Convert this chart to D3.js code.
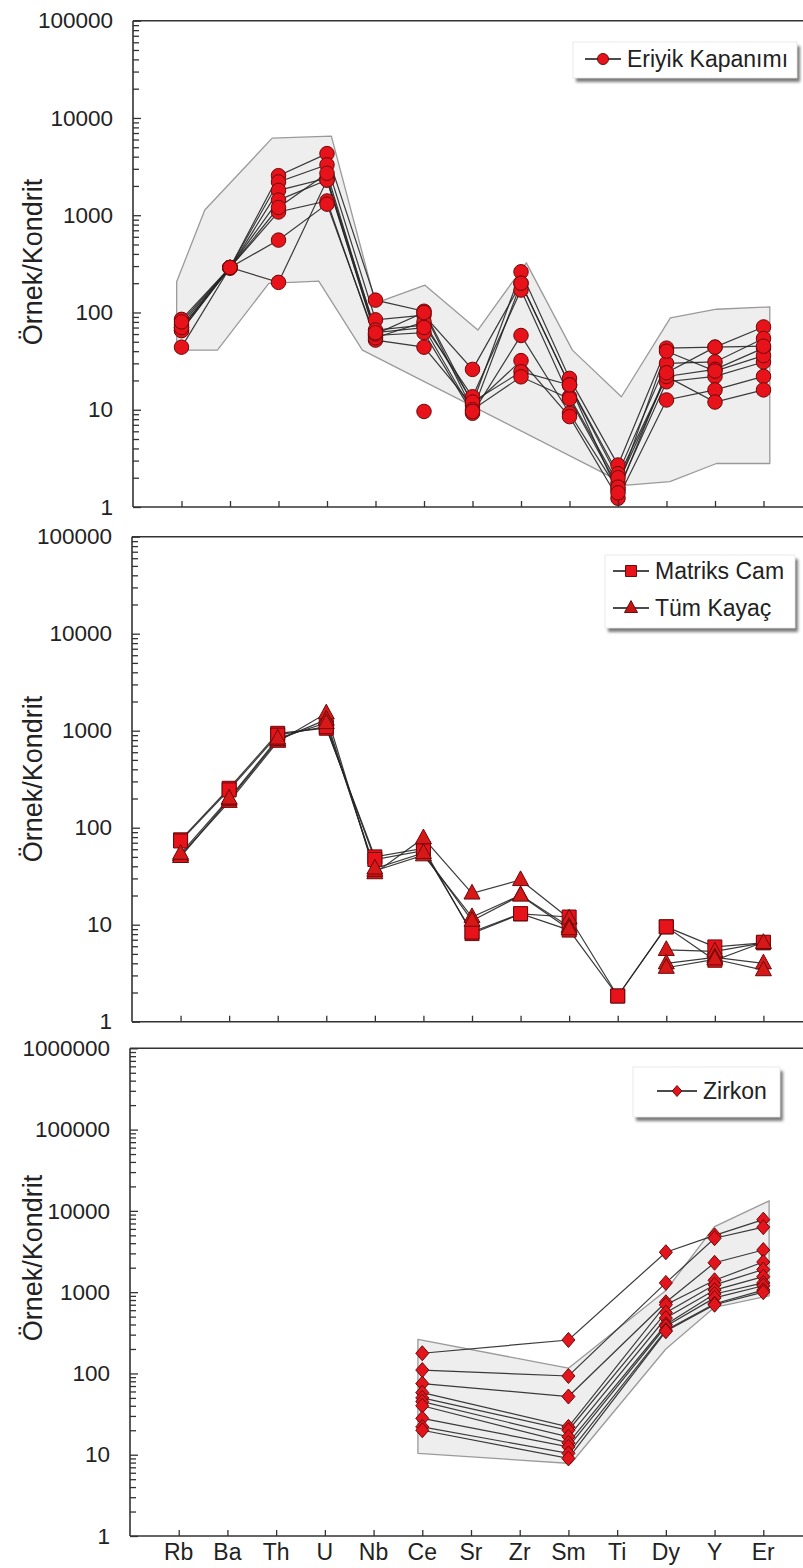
<!DOCTYPE html>
<html>
<head>
<meta charset="utf-8">
<script src="https://cdnjs.cloudflare.com/ajax/libs/d3/7.8.5/d3.min.js"></script>
<style>
  html, body { margin: 0; padding: 0; background: #fff; }
  svg { display: block; }
  text { font-family: "Liberation Sans", Arial, Helvetica, sans-serif; fill: #222; }
</style>
</head>
<body>
<svg id="chart" width="803" height="1568"></svg>
<script>
// Chondrite-normalised multi-element (spider) diagrams

const elements = ["Rb", "Ba", "Th", "U", "Nb", "Ce", "Sr", "Zr", "Sm", "Ti", "Dy", "Y", "Er"];

// --- Eriyik kapanımı (melt inclusions) ---
const eriyik1 = [85, 290, 2550, 4300, 134, 103, 11.6, 262, 21, 2.7, 43, 44, 71];
const eriyik2 = [75, 290, 2200, 3300, 84, 94, 26, 199, 18, 2.2, 30, 31, 54];
const eriyik3 = [70, 285, 1800, 2400, 66, 74, 13.6, 170, 13.6, 1.75, 22, 26, 43];
const eriyik4 = [66, 290, 1430, 2300, 58, 62, 9.2, 58, 9.2, 1.5, 19.4, 22, 31];
const eriyik5 = [65, 290, 1080, 1400, 52, 44, 11, 32, 8.5, 1.23, 12.6, 16, 22];
const eriyik6 = [44, 290, 555, 1300, 55, 80, 12, 24.6, 18, 2.0, 22, 12, 16];
const eriyik7 = [70, 290, 204, 2300, 60, 100, 10, 21.8, 13, 1.6, 40, 25, 36];
const eriyik8 = [80, 290, 1200, 2700, 62, 70, 9.6, 200, 18, 1.4, 24, 44, 45];
const eriyik9 = [null, null, null, null, null, 9.6, null, null, null, null, null, null, null];

// envelope of published melt-inclusion data: [position along element axis, value]
const eriyikEnvelope = [
  [-0.1, 207], [0.48, 1130], [1.87, 6200], [3.09, 6500], [4.0, 125], [5.02, 191],
  [6.11, 66], [7.11, 324], [8.06, 41], [9.07, 13.6], [10.08, 88], [11.03, 108], [12.13, 114],
  [12.13, 2.8], [11.03, 2.8], [10.07, 1.82], [9.19, 1.68], [3.73, 41], [2.83, 210],
  [1.8, 199], [0.74, 41], [-0.1, 41]
];

// --- Matriks cam (matrix glass) and Tüm kayaç (whole rock) ---
const matriksCam1 = [75, 255, 940, 1060, 50, 61, 8.1, 12.9, 12, 1.84, 9.5, 5.9, 6.5];
const matriksCam2 = [73, 245, 900, 1100, 47, 58, 8.4, 13, 8.8, 1.84, 9.5, 4.3, 6.6];
const tumKayac1 = [52, 185, 770, 1510, 34, 78, 21, 28.9, 11.6, null, 5.5, 5.3, 6.5];
const tumKayac2 = [50, 195, 800, 1300, 36, 52, 12, 20.2, 9.5, null, 4.0, 4.6, 4.0];
const tumKayac3 = [54, 200, 830, 1200, 38, 55, 11, 20, 9, null, 3.6, 4.4, 3.4];

// --- Zirkon ---
const zirkon1  = [null, null, null, null, null, 177, null, null, 258, null, 3100, 5000, 7800];
const zirkon2  = [null, null, null, null, null, 110, null, null, 93, null, 1300, 4600, 6300];
const zirkon3  = [null, null, null, null, null, 75, null, null, 52, null, 750, 2300, 3300];
const zirkon4  = [null, null, null, null, null, 58, null, null, 22, null, 700, 1400, 2350];
const zirkon5  = [null, null, null, null, null, 50, null, null, 20, null, 560, 1230, 1900];
const zirkon6  = [null, null, null, null, null, 45, null, null, 16.6, null, 480, 1060, 1550];
const zirkon7  = [null, null, null, null, null, 40, null, null, 14, null, 400, 950, 1300];
const zirkon8  = [null, null, null, null, null, 28, null, null, 12.5, null, 380, 850, 1200];
const zirkon9  = [null, null, null, null, null, 22, null, null, 10.4, null, 340, 720, 1060];
const zirkon10 = [null, null, null, null, null, 20, null, null, 9, null, 330, 700, 1000];

const zirkonEnvelope = [
  [4.91, 262], [8.0, 116], [10.0, 1050], [11.0, 6400], [12.12, 13300],
  [12.12, 900], [11.0, 650], [10.0, 200], [8.05, 7.8], [4.91, 10.4]
];

const yTitle = "Örnek/Kondrit";

// ---------------------------------------------------------------------------
const svg = d3.select("#chart");
const RIGHT = 812;
const RED = "#e8121a";
const OUTLINE = "#6a0a0a";

const defs = svg.append("defs");
const f = defs.append("filter").attr("id", "shadow").attr("x", "-20%").attr("y", "-20%")
  .attr("width", "140%").attr("height", "160%");
f.append("feGaussianBlur").attr("stdDeviation", 1.6);

const shapes = {
  circle: s => { const r = s / 2; return `M${r},0A${r},${r} 0 1,1 ${-r},0A${r},${r} 0 1,1 ${r},0Z`; },
  square: s => `M${-s / 2},${-s / 2}h${s}v${s}h${-s}Z`,
  triangle: s => { const h = s * 0.92; return `M0,${-h * 0.62}L${s / 2},${h * 0.38}L${-s / 2},${h * 0.38}Z`; },
  diamond: s => { const w = s * 0.87, h = s; return `M0,${-h / 2}L${w / 2},0L0,${h / 2}L${-w / 2},0Z`; }
};

const panels = [
  {
    left: 133, top: 20.7, bottom: 507, yMax: 1e5, titleY: 262, gaps: true,
    groups: [
      { shape: "circle", size: 14.5, fill: RED, rows: [eriyik1, eriyik2, eriyik3, eriyik4, eriyik5, eriyik6, eriyik7, eriyik8, eriyik9] }
    ],
    envelope: eriyikEnvelope,
    legend: { x: 573, y: 42, w: 224, h: 36, items: [{ label: "Eriyik Kapanımı", shape: "circle", size: 11, fill: RED }] }
  },
  {
    left: 132, top: 536.7, bottom: 1021.7, yMax: 1e5, titleY: 779, gaps: true,
    groups: [
      { shape: "square", size: 14, fill: RED, rows: [matriksCam1, matriksCam2] },
      { shape: "triangle", size: 16, fill: "#d71818", rows: [tumKayac1, tumKayac2, tumKayac3] }
    ],
    envelope: null,
    legend: { x: 605, y: 555, w: 190, h: 73, items: [
      { label: "Matriks Cam", shape: "square", size: 11, fill: RED },
      { label: "Tüm Kayaç", shape: "triangle", size: 13, fill: "#c41414" }
    ] }
  },
  {
    left: 130, top: 1048.3, bottom: 1536, yMax: 1e6, titleY: 1258, gaps: false, xLabels: true,
    groups: [
      { shape: "diamond", size: 15, fill: "#e3141c", rows: [zirkon1, zirkon2, zirkon3, zirkon4, zirkon5, zirkon6, zirkon7, zirkon8, zirkon9, zirkon10] }
    ],
    envelope: zirkonEnvelope,
    legend: { x: 633, y: 1067, w: 147, h: 50, items: [{ label: "Zirkon", shape: "diamond", size: 11, fill: "#e3141c" }] }
  }
];

panels.forEach(p => {
  const g = svg.append("g");
  const x = d3.scalePoint().domain(elements).range([p.left, RIGHT]).padding(1);
  const y = d3.scaleLog().domain([1, p.yMax]).range([p.bottom, p.top]);
  const xi = i => x(elements[0]) + i * x.step();

  // envelope
  if (p.envelope) {
    const env = d3.line().x(d => xi(d[0])).y(d => y(d[1]));
    g.append("path").attr("d", env(p.envelope) + "Z")
      .attr("fill", "#eeeeee").attr("stroke", "#9a9a9a").attr("stroke-width", 1.3)
      .attr("stroke-linejoin", "round");
  }

  // sample lines
  const line = d3.line().defined(d => d.v != null).x(d => x(d.el)).y(d => y(d.v));
  p.groups.forEach(grp => {
    grp.rows.forEach(row => {
      let pts = row.map((v, i) => ({ el: elements[i], v }));
      if (!p.gaps) pts = pts.filter(d => d.v != null);
      g.append("path").attr("d", line(pts)).attr("fill", "none")
        .attr("stroke", "#262626").attr("stroke-width", 1.2).attr("opacity", 0.9);
    });
  });
  // sample markers
  p.groups.forEach(grp => {
    grp.rows.forEach(row => {
      row.forEach((v, i) => {
        if (v == null) return;
        g.append("path").attr("d", shapes[grp.shape](grp.size))
          .attr("transform", `translate(${x(elements[i])},${y(v)})`)
          .attr("fill", grp.fill).attr("stroke", OUTLINE).attr("stroke-width", 1);
      });
    });
  });

  // frame
  const frame = "#333";
  g.append("line").attr("x1", p.left).attr("x2", RIGHT).attr("y1", p.top).attr("y2", p.top)
    .attr("stroke", frame).attr("stroke-width", 1.6);

  // log axis ticks
  const maxExp = Math.round(Math.log10(p.yMax));
  const majors = d3.range(0, maxExp + 1).map(e => Math.pow(10, e));
  const minors = [];
  d3.range(0, maxExp).forEach(e => { for (let k = 2; k <= 9; k++) minors.push(k * Math.pow(10, e)); });

  const minorAxis = g.append("g").attr("transform", `translate(${p.left},0)`)
    .call(d3.axisRight(y).tickValues(minors).tickSize(6).tickFormat(""));
  const majorAxis = g.append("g").attr("transform", `translate(${p.left},0)`)
    .call(d3.axisRight(y).tickValues(majors).tickSize(8).tickFormat(""));
  const labelAxis = g.append("g").attr("transform", `translate(${p.left},0)`)
    .call(d3.axisLeft(y).tickValues(majors).tickSize(0).tickPadding(20).tickFormat(d3.format("d")));
  [minorAxis, majorAxis, labelAxis].forEach(a => {
    a.select(".domain").remove();
    a.selectAll("line").attr("stroke", frame).attr("stroke-width", 1.3);
  });
  labelAxis.selectAll("text").attr("font-size", 22.5).attr("fill", "#222")
    .attr("font-family", "'Liberation Sans', Arial, sans-serif");

  g.append("line").attr("x1", p.left).attr("x2", p.left).attr("y1", p.top).attr("y2", p.bottom)
    .attr("stroke", frame).attr("stroke-width", 1.6);

  // category ticks
  const xAxis = g.append("g").attr("transform", `translate(0,${p.bottom})`)
    .call(d3.axisTop(x).tickSize(6).tickFormat(""));
  xAxis.select(".domain").remove();
  xAxis.selectAll("line").attr("stroke", frame).attr("stroke-width", 1.3);
  g.append("line").attr("x1", p.left).attr("x2", RIGHT).attr("y1", p.bottom).attr("y2", p.bottom)
    .attr("stroke", frame).attr("stroke-width", 1.6);

  if (p.xLabels) {
    g.selectAll("text.el").data(elements).join("text").attr("class", "el")
      .attr("x", d => x(d)).attr("y", p.bottom + 24)
      .attr("text-anchor", "middle").attr("font-size", 23).text(d => d);
  }

  // axis title
  g.append("text").attr("transform", `translate(42,${p.titleY}) rotate(-90)`)
    .attr("text-anchor", "middle").attr("font-size", 27).text(yTitle);

  // legend
  const L = p.legend;
  const lg = g.append("g");
  lg.append("rect").attr("x", L.x + 3).attr("y", L.y + 4).attr("width", L.w).attr("height", L.h)
    .attr("fill", "#7a7a7a").attr("filter", "url(#shadow)");
  lg.append("rect").attr("x", L.x).attr("y", L.y).attr("width", L.w).attr("height", L.h)
    .attr("fill", "#fff").attr("stroke", "#e4e4e4").attr("stroke-width", 0.8);
  const rowH = L.items.length > 1 ? 37 : 0;
  const firstY = L.y + (L.items.length > 1 ? 16 : L.h / 2 - 1);
  L.items.forEach((it, k) => {
    const cy = firstY + k * rowH;
    const lx = L.x + (p.xLabels ? 24 : (L.items.length > 1 ? 8 : 12));
    const lw = p.xLabels ? 40 : 36;
    lg.append("line").attr("x1", lx).attr("x2", lx + lw).attr("y1", cy).attr("y2", cy)
      .attr("stroke", "#111").attr("stroke-width", 1.4);
    lg.append("path").attr("d", shapes[it.shape](it.size))
      .attr("transform", `translate(${lx + lw / 2},${cy})`)
      .attr("fill", it.fill).attr("stroke", OUTLINE).attr("stroke-width", 1);
    lg.append("text").attr("x", lx + lw + 6).attr("y", cy).attr("dy", "0.35em")
      .attr("font-size", 23).text(it.label);
  });
});
</script>
</body>
</html>
